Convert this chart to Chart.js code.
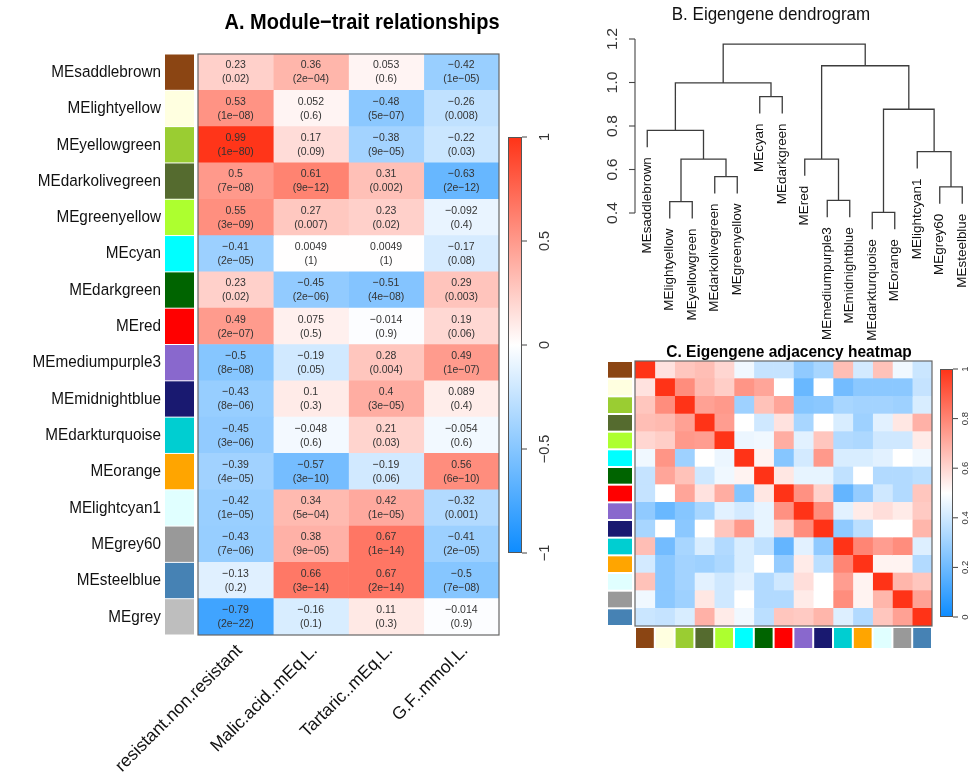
<!DOCTYPE html>
<html><head><meta charset="utf-8">
<script src="https://cdn.jsdelivr.net/npm/chart.js@4.4.0/dist/chart.umd.min.js"></script>
<style>
html,body{margin:0;padding:0;background:#fff;}
#wrap{position:relative;width:976px;height:773px;overflow:hidden;background:#fff;}
canvas{position:absolute;left:0;top:0;}
</style></head><body>
<div id="wrap">
<canvas id="cA" width="976" height="773"></canvas>
<canvas id="cB" width="976" height="773"></canvas>
<canvas id="cC" width="976" height="773"></canvas>
</div>
<script>
// ---------- DATA ----------
const modules = ['MEsaddlebrown','MElightyellow','MEyellowgreen','MEdarkolivegreen','MEgreenyellow','MEcyan','MEdarkgreen','MEred','MEmediumpurple3','MEmidnightblue','MEdarkturquoise','MEorange','MElightcyan1','MEgrey60','MEsteelblue','MEgrey'];
const moduleColors = ['#8B4513','#FFFFE0','#9ACD32','#556B2F','#ADFF2F','#00FFFF','#006400','#FF0000','#8968CD','#191970','#00CED1','#FFA500','#E0FFFF','#999999','#4682B4','#BEBEBE'];
const traits = ['resistant.non.resistant','Malic.acid..mEq.L.','Tartaric..mEq.L.','G.F..mmol.L.'];
const corResistant = [0.23,0.53,0.99,0.5,0.55,-0.41,0.23,0.49,-0.5,-0.43,-0.45,-0.39,-0.42,-0.43,-0.13,-0.79];
const corMalic     = [0.36,0.052,0.17,0.61,0.27,0.0049,-0.45,0.075,-0.19,0.1,-0.048,-0.57,0.34,0.38,0.66,-0.16];
const corTartaric  = [0.053,-0.48,-0.38,0.31,0.23,0.0049,-0.51,-0.014,0.28,0.4,0.21,-0.19,0.42,0.67,0.67,0.11];
const corGF        = [-0.42,-0.26,-0.22,-0.63,-0.092,-0.17,0.29,0.19,0.49,0.089,-0.054,0.56,-0.32,-0.41,-0.5,-0.014];
const pResistant = ['0.02','1e−08','1e−80','7e−08','3e−09','2e−05','0.02','2e−07','8e−08','8e−06','3e−06','4e−05','1e−05','7e−06','0.2','2e−22'];
const pMalic     = ['2e−04','0.6','0.09','9e−12','0.007','1','2e−06','0.5','0.05','0.3','0.6','3e−10','5e−04','9e−05','3e−14','0.1'];
const pTartaric  = ['0.6','5e−07','9e−05','0.002','0.02','1','4e−08','0.9','0.004','3e−05','0.03','0.06','1e−05','1e−14','2e−14','0.3'];
const pGF        = ['1e−05','0.008','0.03','2e−12','0.4','0.08','0.003','0.06','1e−07','0.4','0.6','6e−10','0.001','2e−05','7e−08','0.9'];
const colorbarTicksA = [-1,-0.5,0,0.5,1];
const colorbarLabelsA = ['−1','−0.5','0','0.5','1'];

// dendrogram (leaves in plotted order, R-style merge matrix)
const dendroLeaves = ['MEsaddlebrown','MElightyellow','MEyellowgreen','MEdarkolivegreen','MEgreenyellow','MEcyan','MEdarkgreen','MEred','MEmediumpurple3','MEmidnightblue','MEdarkturquoise','MEorange','MElightcyan1','MEgrey60','MEsteelblue'];
const mergeLeft   = [-11,-2,-9,-14,-4, 2,-8,-13,-1, 1,-6, 9, 7,12];
const mergeRight  = [-12,-3,-10,-15,-5, 5, 3, 4, 6, 8,-7,11,10,13];
const mergeHeight = [0.403,0.452,0.458,0.52,0.567,0.648,0.648,0.682,0.78,0.877,0.935,0.998,1.077,1.176];
const dendroTicks = [0.4,0.6,0.8,1.0,1.2];
const dendroTickLabels = ['0.4','0.6','0.8','1.0','1.2'];

// adjacency heatmap (same leaf order)
const adjColors = ['#8B4513','#FFFFE0','#9ACD32','#556B2F','#ADFF2F','#00FFFF','#006400','#FF0000','#8968CD','#191970','#00CED1','#FFA500','#E0FFFF','#999999','#4682B4'];
const adjacency = [
 [1.00,0.57,0.64,0.66,0.60,0.47,0.38,0.38,0.27,0.32,0.66,0.41,0.65,0.47,0.39],
 [0.57,1.00,0.78,0.67,0.62,0.76,0.72,0.50,0.19,0.50,0.21,0.26,0.26,0.26,0.38],
 [0.64,0.78,1.00,0.73,0.75,0.30,0.65,0.72,0.25,0.26,0.32,0.31,0.31,0.30,0.42],
 [0.66,0.67,0.73,1.00,0.74,0.50,0.40,0.57,0.32,0.50,0.42,0.30,0.44,0.56,0.69],
 [0.60,0.62,0.75,0.74,1.00,0.46,0.47,0.70,0.44,0.64,0.34,0.33,0.40,0.40,0.55],
 [0.47,0.76,0.30,0.50,0.46,1.00,0.53,0.25,0.41,0.75,0.42,0.42,0.44,0.50,0.47],
 [0.38,0.72,0.65,0.40,0.47,0.53,1.00,0.56,0.45,0.45,0.37,0.50,0.34,0.34,0.36],
 [0.38,0.50,0.72,0.57,0.70,0.25,0.56,1.00,0.77,0.61,0.18,0.28,0.40,0.34,0.64],
 [0.27,0.19,0.25,0.32,0.44,0.41,0.45,0.77,1.00,0.78,0.44,0.55,0.58,0.55,0.63],
 [0.32,0.50,0.26,0.50,0.64,0.75,0.45,0.61,0.78,1.00,0.27,0.36,0.50,0.50,0.68],
 [0.66,0.21,0.32,0.42,0.34,0.42,0.37,0.18,0.44,0.27,1.00,0.80,0.74,0.78,0.43],
 [0.41,0.26,0.31,0.30,0.33,0.42,0.50,0.28,0.55,0.36,0.80,1.00,0.53,0.53,0.34],
 [0.65,0.26,0.31,0.44,0.40,0.44,0.34,0.40,0.58,0.50,0.74,0.53,1.00,0.68,0.64],
 [0.47,0.26,0.30,0.56,0.40,0.50,0.34,0.34,0.55,0.50,0.78,0.53,0.68,1.00,0.73],
 [0.39,0.38,0.42,0.69,0.55,0.47,0.36,0.64,0.63,0.68,0.43,0.34,0.64,0.73,1.00]
];
const colorbarTicksC = [0,0.2,0.4,0.6,0.8,1];
const colorbarLabelsC = ['0','0.2','0.4','0.6','0.8','1'];

// ---------- HELPERS ----------
const FONT = '"Liberation Sans", Arial, sans-serif';
const SY = 1.12;
const BLUE=[13,140,255], RED=[255,51,23], WHITE=[255,255,255];
function bwr(t){ // t in [-1,1]
  const end = t<0 ? BLUE : RED, s=Math.min(1,Math.abs(t));
  const c = WHITE.map((v,k)=>Math.round(v+(end[k]-v)*s));
  return 'rgb('+c.join(',')+')';
}
function fmt(v){ return (v<0?'−':'')+String(Math.abs(v)); }
function txt(ctx,s,x,y,o){
  ctx.save(); ctx.translate(x,y); ctx.scale(1,o.sy===undefined?SY:o.sy);
  if(o.rot) ctx.rotate(o.rot);
  ctx.font=o.font; ctx.fillStyle=o.color||'#000';
  ctx.textAlign=o.align||'center'; ctx.textBaseline=o.base||'middle';
  ctx.fillText(s,0,0); ctx.restore();
}
function colorbar(ctx,x0,x1,yTop,yBot,ticks,labels,vMin,vMax,mapFn,lblX,font){
  const g=ctx.createLinearGradient(0,yBot,0,yTop);
  [0,0.25,0.5,0.75,1].forEach(f=>g.addColorStop(f,mapFn(vMin+(vMax-vMin)*f)));
  ctx.fillStyle=g; ctx.fillRect(x0,yTop,x1-x0,yBot-yTop);
  ctx.strokeStyle='#555'; ctx.lineWidth=1; ctx.strokeRect(x0+0.5,yTop+0.5,x1-x0-1,yBot-yTop-1);
  ticks.forEach((t,i)=>{
    const y=yBot-(t-vMin)/(vMax-vMin)*(yBot-yTop);
    ctx.beginPath(); ctx.moveTo(x1,y); ctx.lineTo(x1+5,y); ctx.strokeStyle='#444'; ctx.stroke();
    txt(ctx,labels[i],lblX,y,{font:font,rot:-Math.PI/2,color:'#333',sy:1});
  });
}
const noUI = {legend:{display:false},tooltip:{enabled:false}};

// ---------- A: module-trait heatmap ----------
const corCols=[corResistant,corMalic,corTartaric,corGF];
const pCols=[pResistant,pMalic,pTartaric,pGF];
const pluginA={id:'pA',afterDraw(chart){
  const ctx=chart.ctx, ca=chart.chartArea, ys=chart.scales.y, xs=chart.scales.x;
  chart.data.datasets.forEach((ds,j)=>{
    chart.getDatasetMeta(j).data.forEach((el,i)=>{
      const cx=(el.x+el.base)/2, cy=el.y;
      txt(ctx,fmt(corCols[j][i]),cx,cy-7,{font:'10.5px '+FONT,color:'#333'});
      txt(ctx,'('+pCols[j][i]+')',cx,cy+7,{font:'10.5px '+FONT,color:'#333'});
    });
  });
  ctx.strokeStyle='#666'; ctx.lineWidth=1.2;
  ctx.strokeRect(ca.left,ca.top,ca.right-ca.left,ca.bottom-ca.top);
  const rowH=(ca.bottom-ca.top)/modules.length;
  modules.forEach((m,i)=>{
    const cy=ys.getPixelForValue(i);
    ctx.fillStyle=moduleColors[i]; ctx.fillRect(165,cy-rowH/2+0.5,29,rowH-1);
    txt(ctx,m,161,cy,{font:'15.3px '+FONT,align:'right',color:'#111'});
  });
  traits.forEach((t,j)=>{
    const cx=xs.getPixelForValue(j+0.5);
    txt(ctx,t,cx+4,648,{font:'17.5px '+FONT,rot:-Math.PI/4,align:'right',color:'#111',sy:1});
  });
  txt(ctx,'A. Module−trait relationships',362,23,{font:'bold 20px '+FONT});
  colorbar(ctx,508,522,137,553,colorbarTicksA,colorbarLabelsA,-1,1,bwr,545,'14.5px '+FONT);
}};
new Chart(document.getElementById('cA'),{
  type:'bar',
  data:{labels:modules,datasets:traits.map((t,j)=>({label:t,data:modules.map(()=>1),
    backgroundColor:corCols[j].map(v=>bwr(v)),borderWidth:0,barPercentage:1,categoryPercentage:1}))},
  options:{indexAxis:'y',responsive:false,animation:false,events:[],
    layout:{padding:{left:198,top:54,right:477,bottom:138}},
    scales:{x:{display:false,stacked:true,min:0,max:4},y:{display:false,stacked:true}},
    plugins:noUI},
  plugins:[pluginA]
});

// ---------- B: dendrogram ----------
const hang=0.1*(Math.max(...mergeHeight)-Math.min(...mergeHeight));
const nodeX=[], leafBottom=[], segments=[];
mergeLeft.forEach((l,k)=>{
  const h=mergeHeight[k];
  const child=c=>{ if(c<0){ leafBottom[-c-1]=h-hang; return {x:-c-1,y:h-hang}; } return {x:nodeX[c-1],y:mergeHeight[c-1]}; };
  const a=child(l), b=child(mergeRight[k]);
  nodeX[k]=(a.x+b.x)/2;
  segments.push([{x:a.x,y:a.y},{x:a.x,y:h},{x:b.x,y:h},{x:b.x,y:b.y}]);
});
const pluginB={id:'pB',afterDraw(chart){
  const ctx=chart.ctx, ys=chart.scales.y, xs=chart.scales.x;
  const ax=635;
  ctx.strokeStyle='#444'; ctx.lineWidth=1.1;
  ctx.beginPath(); ctx.moveTo(ax,ys.getPixelForValue(dendroTicks[0])); ctx.lineTo(ax,ys.getPixelForValue(dendroTicks[dendroTicks.length-1])); ctx.stroke();
  dendroTicks.forEach((t,i)=>{
    const y=ys.getPixelForValue(t);
    ctx.beginPath(); ctx.moveTo(ax,y); ctx.lineTo(ax-6,y); ctx.stroke();
    txt(ctx,dendroTickLabels[i],613,y,{font:'14px '+FONT,rot:-Math.PI/2,color:'#333'});
  });
  dendroLeaves.forEach((n,i)=>{
    txt(ctx,n,xs.getPixelForValue(i),ys.getPixelForValue(leafBottom[i])+10,{font:'12px '+FONT,rot:-Math.PI/2,align:'right',color:'#111'});
  });
  txt(ctx,'B. Eigengene dendrogram',771,15,{font:'17px '+FONT,color:'#111'});
}};
new Chart(document.getElementById('cB'),{
  type:'scatter',
  data:{datasets:segments.map(s=>({data:s,showLine:true,borderColor:'#3c3c3c',borderWidth:1.3,pointRadius:0,tension:0,fill:false,clip:false}))},
  options:{responsive:false,animation:false,events:[],
    layout:{padding:{left:636,right:2.5,top:28.125,bottom:516.5}},
    scales:{x:{type:'linear',display:false,min:-0.5,max:14.5},y:{type:'linear',display:false,min:0.2,max:1.25}},
    plugins:noUI},
  plugins:[pluginB]
});

// ---------- C: adjacency heatmap ----------
const bwr01=v=>bwr(2*v-1);
const pluginC={id:'pC',afterDraw(chart){
  const ctx=chart.ctx, ca=chart.chartArea, ys=chart.scales.y, xs=chart.scales.x;
  ctx.strokeStyle='#666'; ctx.lineWidth=1.2;
  ctx.strokeRect(ca.left,ca.top,ca.right-ca.left,ca.bottom-ca.top);
  const rowH=(ca.bottom-ca.top)/dendroLeaves.length, colW=(ca.right-ca.left)/dendroLeaves.length;
  dendroLeaves.forEach((m,i)=>{
    const cy=ys.getPixelForValue(i);
    ctx.fillStyle=adjColors[i]; ctx.fillRect(608,cy-rowH/2+1,24,rowH-2);
    const cx=xs.getPixelForValue(i+0.5);
    ctx.fillRect(cx-colW/2+1,628,colW-2,20);
  });
  txt(ctx,'C. Eigengene adjacency heatmap',789,352,{font:'bold 15.5px '+FONT});
  colorbar(ctx,940,953,369,617,colorbarTicksC,colorbarLabelsC,0,1,bwr01,965,'9.5px '+FONT);
}};
new Chart(document.getElementById('cC'),{
  type:'bar',
  data:{labels:dendroLeaves,datasets:dendroLeaves.map((n,j)=>({label:n,data:dendroLeaves.map(()=>1),
    backgroundColor:adjacency.map(row=>bwr01(row[j])),borderWidth:0,barPercentage:1,categoryPercentage:1}))},
  options:{indexAxis:'y',responsive:false,animation:false,events:[],
    layout:{padding:{left:635,top:361,right:44,bottom:147}},
    scales:{x:{display:false,stacked:true,min:0,max:15},y:{display:false,stacked:true}},
    plugins:noUI},
  plugins:[pluginC]
});
</script>
</body></html>
